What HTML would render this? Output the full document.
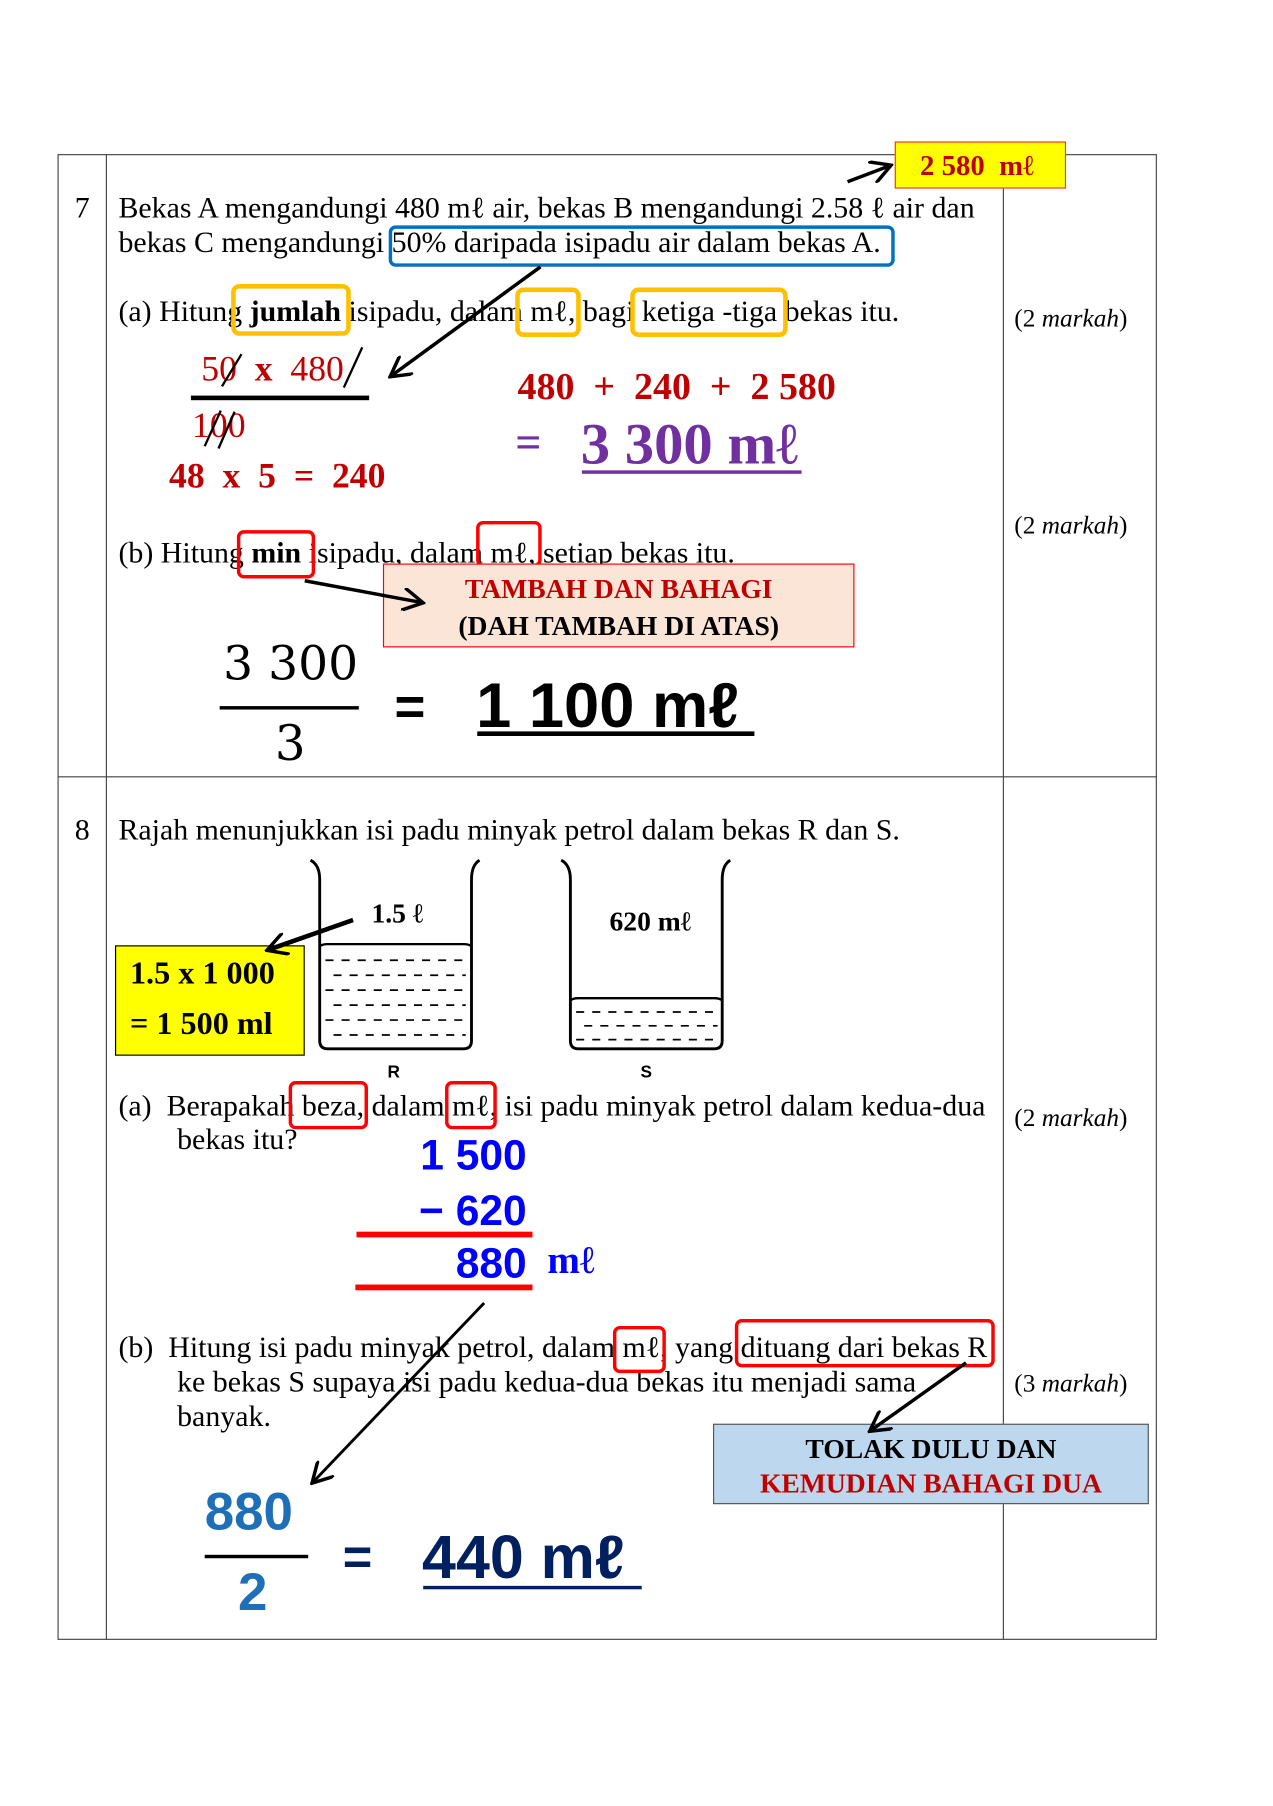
<!DOCTYPE html>
<html><head><meta charset="utf-8"><style>
body{margin:0;width:1273px;height:1800px;background:#fff;overflow:hidden}
#w{position:absolute;left:0;top:0;width:1110px;height:1570px;transform:scale(1.15);transform-origin:0 0;font-family:"Liberation Serif",serif;color:#000}
.t{position:absolute;white-space:nowrap;line-height:1}
.q{font-size:26px}
.b{position:absolute;box-sizing:border-box}
.ar{font-family:"Liberation Sans",sans-serif;font-weight:bold}
svg{position:absolute;left:0;top:0}
</style></head><body><div id="w">
<div class="b" style="left:50px;top:134px;width:956px;height:1292px;border:1px solid #444"></div>
<div class="b" style="left:92px;top:134px;width:1px;height:1292px;background:#444"></div>
<div class="b" style="left:872px;top:134px;width:1px;height:1292px;background:#444"></div>
<div class="b" style="left:50px;top:675px;width:956px;height:1px;background:#444"></div>

<div class="b" style="left:778px;top:123px;width:149px;height:41px;background:#ffff00;border:1px solid #e33"></div>
<div class="t" style="left:800px;top:132px;font-size:25px;font-weight:bold;color:#c00000">2 580&nbsp; mℓ</div>
<div class="t q" style="left:65px;top:168px">7</div>
<div class="t q" style="left:103px;top:168px">Bekas A mengandungi 480 mℓ air, bekas B mengandungi 2.58 ℓ air dan</div>
<div class="t q" style="left:103px;top:198px">bekas C mengandungi 50% daripada isipadu air dalam bekas A.</div>
<div class="b" style="left:338px;top:196px;width:440px;height:36px;border:3px solid #0070c0;border-radius:6px"></div>
<div class="t q" style="left:103px;top:258px">(a) Hitung <b>jumlah</b> isipadu, dalam mℓ, bagi ketiga -tiga bekas itu.</div>
<div class="b" style="left:201px;top:247px;width:104px;height:45px;border:4px solid #ffc000;border-radius:7px"></div>
<div class="b" style="left:448px;top:250px;width:57px;height:43px;border:4px solid #ffc000;border-radius:7px"></div>
<div class="b" style="left:548px;top:250px;width:137px;height:43px;border:4px solid #ffc000;border-radius:7px"></div>
<div class="t" style="left:882px;top:266px;font-size:22px">(2 <i>markah</i>)</div>
<div class="t" style="left:882px;top:446px;font-size:22px">(2 <i>markah</i>)</div>

<div class="t" style="left:175px;top:305px;font-size:31px;color:#c00000">50&nbsp; <b>x</b>&nbsp; 480</div>
<div class="b" style="left:166px;top:344px;width:155px;height:4px;background:#000"></div>
<div class="t" style="left:167px;top:354px;font-size:31px;color:#c00000">100</div>
<div class="t" style="left:147px;top:398px;font-size:31px;font-weight:bold;color:#c00000">48&nbsp; x&nbsp; 5&nbsp; =&nbsp; 240</div>
<div class="t" style="left:450px;top:321px;font-size:33px;font-weight:bold;color:#c00000">480&nbsp; +&nbsp; 240&nbsp; +&nbsp; 2 580</div>
<div class="t" style="left:448px;top:365px;font-size:40px;font-weight:bold;color:#7030a0">=</div>
<div class="t" style="left:505px;top:362px;font-size:51px;font-weight:bold;color:#7030a0">3 300 mℓ</div>
<div class="b" style="left:506px;top:409px;width:191px;height:3px;background:#7030a0"></div>

<div class="t q" style="left:103px;top:468px">(b) Hitung <b>min</b> isipadu, dalam mℓ, setiap bekas itu.</div>
<div class="b" style="left:206px;top:461px;width:68px;height:42px;border:3px solid #f00;border-radius:6px"></div>
<div class="b" style="left:414px;top:453px;width:57px;height:40px;border:3px solid #f00;border-radius:6px"></div>
<div class="b" style="left:333px;top:490px;width:410px;height:73px;background:#fbe5d6;border:1px solid #f00"></div>
<div class="t" style="left:333px;top:501px;width:410px;text-align:center;font-size:24px;font-weight:bold;color:#c00000">TAMBAH DAN BAHAGI</div>
<div class="t" style="left:333px;top:533px;width:410px;text-align:center;font-size:24px;font-weight:bold">(DAH TAMBAH DI ATAS)</div>

<div class="t" style="left:194px;top:557px;font-size:41px;font-family:'DejaVu Serif',serif">3 300</div>
<div class="b" style="left:191px;top:614px;width:121px;height:3px;background:#000"></div>
<div class="t" style="left:239px;top:626px;font-size:42px;font-family:'DejaVu Serif',serif">3</div>
<div class="t ar" style="left:343px;top:591px;font-size:46px">=</div>
<div class="t ar" style="left:414px;top:586px;font-size:55px">1 100 mℓ</div>
<div class="b" style="left:415px;top:636px;width:241px;height:4px;background:#000"></div>

<div class="t q" style="left:65px;top:709px">8</div>
<div class="t q" style="left:103px;top:709px">Rajah menunjukkan isi padu minyak petrol dalam bekas R dan S.</div>
<div class="t" style="left:323px;top:783px;font-size:24px;font-weight:bold">1.5 ℓ</div>
<div class="t" style="left:530px;top:790px;font-size:24px;font-weight:bold">620 mℓ</div>
<div class="t ar" style="left:337px;top:925px;font-size:15px">R</div>
<div class="t ar" style="left:557px;top:925px;font-size:15px">S</div>
<div class="b" style="left:100px;top:822px;width:165px;height:96px;background:#ffff00;border:1px solid #000"></div>
<div class="t" style="left:113px;top:833px;font-size:28px;font-weight:bold">1.5 x 1 000</div>
<div class="t" style="left:113px;top:877px;font-size:28px;font-weight:bold">= 1 500 ml</div>

<div class="t q" style="left:103px;top:949px">(a)&nbsp; Berapakah beza, dalam mℓ, isi padu minyak petrol dalam kedua-dua</div>
<div class="t q" style="left:154px;top:978px">bekas itu?</div>
<div class="b" style="left:251px;top:940px;width:69px;height:42px;border:3px solid #f00;border-radius:6px"></div>
<div class="b" style="left:387px;top:940px;width:45px;height:42px;border:3px solid #f00;border-radius:6px"></div>
<div class="t" style="left:882px;top:961px;font-size:22px">(2 <i>markah</i>)</div>
<div class="t ar" style="left:290px;top:986px;width:168px;text-align:right;font-size:37px;color:#0000ff">1 500</div>
<div class="t ar" style="left:290px;top:1034px;width:168px;text-align:right;font-size:37px;color:#0000ff">− 620</div>
<div class="b" style="left:310px;top:1071px;width:153px;height:5px;background:#f00"></div>
<div class="t ar" style="left:290px;top:1080px;width:168px;text-align:right;font-size:37px;color:#0000ff">880</div>
<div class="t" style="left:476px;top:1080px;font-size:34px;font-weight:bold;color:#0000ff">mℓ</div>
<div class="b" style="left:309px;top:1117px;width:154px;height:5px;background:#f00"></div>

<div class="t q" style="left:103px;top:1159px">(b)&nbsp; Hitung isi padu minyak petrol, dalam mℓ, yang dituang dari bekas R</div>
<div class="t q" style="left:154px;top:1189px">ke bekas S supaya isi padu kedua-dua bekas itu menjadi sama</div>
<div class="t q" style="left:154px;top:1219px">banyak.</div>
<div class="b" style="left:533px;top:1153px;width:46px;height:41px;border:3px solid #f00;border-radius:6px"></div>
<div class="b" style="left:639px;top:1147px;width:226px;height:42px;border:3px solid #f00;border-radius:6px"></div>
<div class="t" style="left:882px;top:1192px;font-size:22px">(3 <i>markah</i>)</div>
<div class="b" style="left:620px;top:1238px;width:379px;height:70px;background:#bdd7ee;border:1px solid #555"></div>
<div class="t" style="left:620px;top:1249px;width:379px;text-align:center;font-size:24px;font-weight:bold">TOLAK DULU DAN</div>
<div class="t" style="left:620px;top:1279px;width:379px;text-align:center;font-size:24px;font-weight:bold;color:#c00000">KEMUDIAN BAHAGI DUA</div>

<div class="t ar" style="left:178px;top:1291px;font-size:46px;color:#1f6fb8">880</div>
<div class="b" style="left:178px;top:1352px;width:90px;height:3px;background:#000"></div>
<div class="t ar" style="left:207px;top:1361px;font-size:46px;color:#1f6fb8">2</div>
<div class="t ar" style="left:298px;top:1333px;font-size:44px;color:#002060">=</div>
<div class="t ar" style="left:367px;top:1328px;font-size:53px;color:#002060">440 mℓ</div>
<div class="b" style="left:368px;top:1379px;width:190px;height:3px;background:#002060"></div>

<svg width="1110" height="1570">
<defs><marker id="m" markerWidth="20" markerHeight="20" refX="17" refY="10" orient="auto" markerUnits="userSpaceOnUse"><path d="M0,0 L18,10 L0,20" fill="none" stroke="#000" stroke-width="3"/></marker></defs>
<g stroke="#000" fill="none">
<line x1="737" y1="158" x2="774" y2="144" stroke-width="3" marker-end="url(#m)"/>
<line x1="470" y1="232" x2="340" y2="327" stroke-width="3" marker-end="url(#m)"/>
<line x1="265" y1="505" x2="367" y2="524" stroke-width="3" marker-end="url(#m)"/>
<line x1="307" y1="800" x2="233" y2="826" stroke-width="4" marker-end="url(#m)"/>
<line x1="421" y1="1133" x2="272" y2="1289" stroke-width="2.5" marker-end="url(#m)"/>
<line x1="840" y1="1185" x2="757" y2="1244" stroke-width="3" marker-end="url(#m)"/>
<g stroke="#000" stroke-width="2"><line x1="193" y1="336" x2="210" y2="308"/><line x1="299" y1="337" x2="315" y2="302"/><line x1="178" y1="388" x2="192" y2="357"/><line x1="190" y1="390" x2="204" y2="358"/></g>
<path d="M270,748 Q278,752 278,765 L278,905 Q278,912 285,912 L403,912 Q410,912 410,905 L410,765 Q410,752 417,748" stroke-width="2.5"/>
<path d="M278,823 Q280,821 285,821 L403,821 Q408,821 410,823" stroke-width="2"/>
<path d="M488,748 Q496,752 496,765 L496,905 Q496,912 503,912 L621,912 Q628,912 628,905 L628,765 Q628,752 635,748" stroke-width="2.5"/>
<path d="M496,870 Q498,868 503,868 L621,868 Q626,868 628,870" stroke-width="2"/>
<g stroke-dasharray="7,7" stroke-width="1.5">
<line x1="283" y1="835" x2="405" y2="835"/><line x1="290" y1="848" x2="405" y2="848"/><line x1="283" y1="861" x2="405" y2="861"/><line x1="290" y1="874" x2="405" y2="874"/><line x1="283" y1="887" x2="405" y2="887"/><line x1="290" y1="900" x2="405" y2="900"/>
<line x1="501" y1="880" x2="624" y2="880"/><line x1="508" y1="892" x2="624" y2="892"/><line x1="501" y1="904" x2="624" y2="904"/>
</g>
</g>
</svg>
</div></body></html>
